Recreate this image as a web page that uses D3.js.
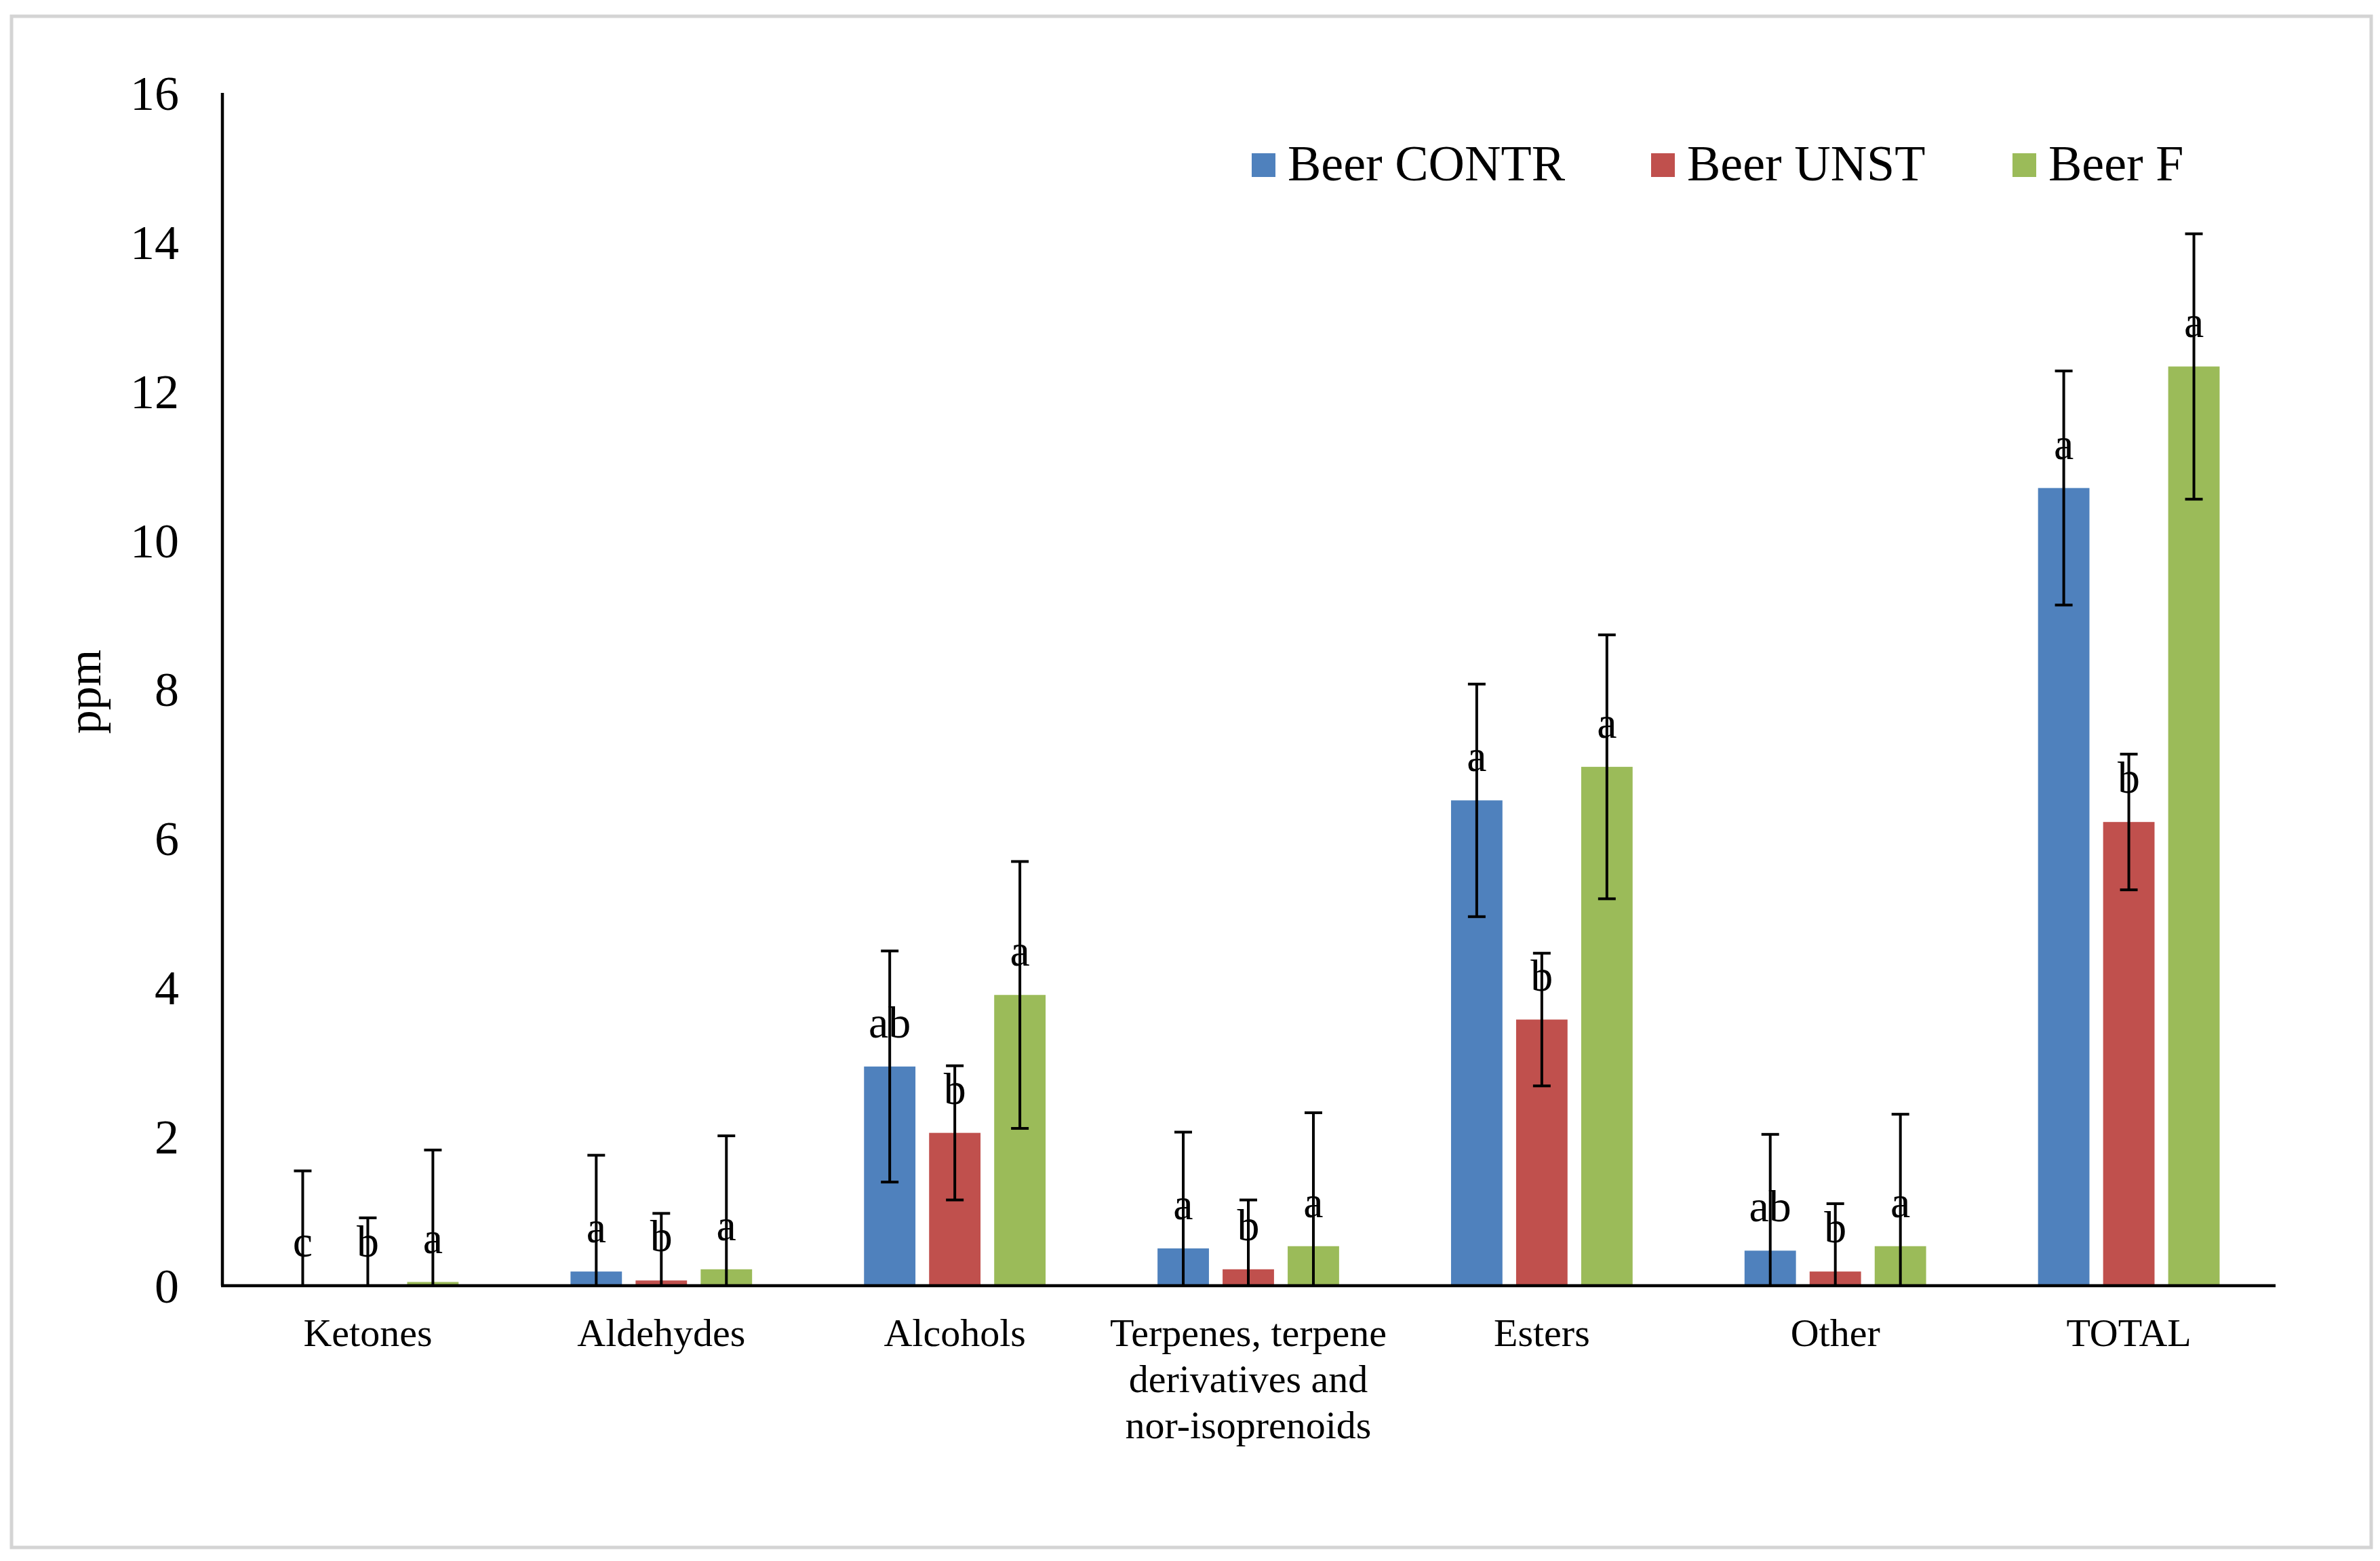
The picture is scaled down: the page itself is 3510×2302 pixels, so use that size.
<!DOCTYPE html>
<html>
<head>
<meta charset="utf-8">
<script src="https://cdn.jsdelivr.net/npm/d3@7/dist/d3.min.js"></script>
<style>
  html, body { margin: 0; padding: 0; background: #fff; }
  svg text { font-family: "Liberation Serif", "Times New Roman", serif; fill: #000; }
</style>
</head>
<body>
<svg id="chart" width="3510" height="2302"></svg>
<script>
// ---- Data ----
const categories = ["Ketones", "Aldehydes", "Alcohols", "Terpenes, terpene\nderivatives and\nnor-isoprenoids", "Esters", "Other", "TOTAL"];
const seriesNames = ["Beer CONTR", "Beer UNST", "Beer F"];
const valuesCONTR = [0.00, 0.19, 2.94, 0.50, 6.51, 0.47, 10.70];
const valuesUNST  = [0.00, 0.07, 2.05, 0.22, 3.57, 0.19, 6.22];
const valuesF     = [0.05, 0.22, 3.90, 0.53, 6.96, 0.53, 12.33];
const errCONTR = [1.54, 1.56, 1.55, 1.56, 1.56, 1.56, 1.57];
const errUNST  = [0.91, 0.90, 0.90, 0.93, 0.89, 0.91, 0.91];
const errF     = [1.77, 1.79, 1.79, 1.79, 1.77, 1.77, 1.78];
const lettersCONTR = ["c", "a", "ab", "a", "a", "ab", "a"];
const lettersUNST  = ["b", "b", "b", "b", "b", "b", "b"];
const lettersF     = ["a", "a", "a", "a", "a", "a", "a"];
const yTicks = [0, 2, 4, 6, 8, 10, 12, 14, 16];
const colors = ["#4F81BD", "#C0504D", "#9BBB59"];
const yLabel = "ppm";

// ---- Layout ----
const svg = d3.select("#chart");
const W = 3510, H = 2302;
const plot = { left: 326, right: 3356, top: 137, bottom: 1896 };

// outer frame
svg.append("rect")
  .attr("x", 17).attr("y", 24).attr("width", 3480).attr("height", 2258)
  .attr("fill", "#fff").attr("stroke", "#d4d4d4").attr("stroke-width", 5);

const series = [
  { name: seriesNames[0], values: valuesCONTR, errs: errCONTR, letters: lettersCONTR, color: colors[0] },
  { name: seriesNames[1], values: valuesUNST,  errs: errUNST,  letters: lettersUNST,  color: colors[1] },
  { name: seriesNames[2], values: valuesF,     errs: errF,     letters: lettersF,     color: colors[2] }
];

const x0 = d3.scaleBand().domain(categories).range([plot.left, plot.right]).paddingInner(0).paddingOuter(0);
const x1 = d3.scaleBand().domain(seriesNames).range([0, x0.bandwidth()]).paddingInner(0.21).paddingOuter(0.86);
const y = d3.scaleLinear().domain([0, 16]).range([plot.bottom, plot.top]);

// bars
const groups = svg.append("g");
series.forEach(s => {
  groups.selectAll(null)
    .data(categories.map((c, i) => ({ c, v: s.values[i] })))
    .enter().append("rect")
    .attr("x", d => x0(d.c) + x1(s.name))
    .attr("y", d => y(d.v))
    .attr("width", x1.bandwidth())
    .attr("height", d => y(0) - y(d.v))
    .attr("fill", s.color);
});

// significance letters
series.forEach(s => {
  svg.append("g").selectAll("text")
    .data(categories.map((c, i) => ({ c, v: s.values[i], t: s.letters[i] })))
    .enter().append("text")
    .attr("x", d => x0(d.c) + x1(s.name) + x1.bandwidth() / 2)
    .attr("y", d => y(d.v) - 43)
    .attr("text-anchor", "middle")
    .attr("font-size", 66)
    .text(d => d.t);
});

// error bars
const capW = 26;
series.forEach(s => {
  const g = svg.append("g").attr("stroke", "#000").attr("stroke-width", 4);
  categories.forEach((c, i) => {
    const cx = x0(c) + x1(s.name) + x1.bandwidth() / 2;
    const hi = s.values[i] + s.errs[i];
    const loRaw = s.values[i] - s.errs[i];
    const lo = Math.max(0, loRaw);
    g.append("line").attr("x1", cx).attr("x2", cx).attr("y1", y(hi)).attr("y2", y(lo));
    g.append("line").attr("x1", cx - capW / 2).attr("x2", cx + capW / 2).attr("y1", y(hi)).attr("y2", y(hi));
    if (loRaw >= 0) {
      g.append("line").attr("x1", cx - capW / 2).attr("x2", cx + capW / 2).attr("y1", y(lo)).attr("y2", y(lo));
    }
  });
});

// y axis
const yAxis = d3.axisLeft(y).tickValues(yTicks).tickSize(0).tickPadding(64).tickFormat(d3.format("d"));
const gy = svg.append("g").attr("transform", `translate(328,0)`).call(yAxis);
gy.select(".domain").attr("stroke", "#000").attr("stroke-width", 4.5).attr("d", `M0,${y(16)}V${y(0)}`);
gy.selectAll("text").attr("font-size", 72).attr("font-family", '"Liberation Serif", "Times New Roman", serif').attr("fill", "#000").attr("dy", "0.34em");

// x axis
const xAxis = d3.axisBottom(x0).tickSize(0).tickFormat("");
const gx = svg.append("g").attr("transform", `translate(0,${plot.bottom})`).call(xAxis);
gx.select(".domain").attr("stroke", "#000").attr("stroke-width", 4.5).attr("d", `M326,0H${plot.right}`);

// category labels
const catG = svg.append("g");
categories.forEach(c => {
  const lines = c.split("\n");
  const t = catG.append("text")
    .attr("x", x0(c) + x0.bandwidth() / 2)
    .attr("y", 1985)
    .attr("text-anchor", "middle")
    .attr("font-size", 58);
  lines.forEach((ln, k) => {
    t.append("tspan").attr("x", x0(c) + x0.bandwidth() / 2).attr("dy", k === 0 ? 0 : 68).text(ln);
  });
});

// y axis title
svg.append("text")
  .attr("transform", "translate(148,1020) rotate(-90)")
  .attr("text-anchor", "middle")
  .attr("font-size", 70)
  .text(yLabel);

// legend
const legendX = [1846, 2435, 2968];
const legend = svg.append("g");
series.forEach((s, i) => {
  legend.append("rect").attr("x", legendX[i]).attr("y", 226).attr("width", 35).attr("height", 35).attr("fill", s.color);
  legend.append("text").attr("x", legendX[i] + 53).attr("y", 266).attr("font-size", 74).text(s.name);
});
</script>
</body>
</html>
